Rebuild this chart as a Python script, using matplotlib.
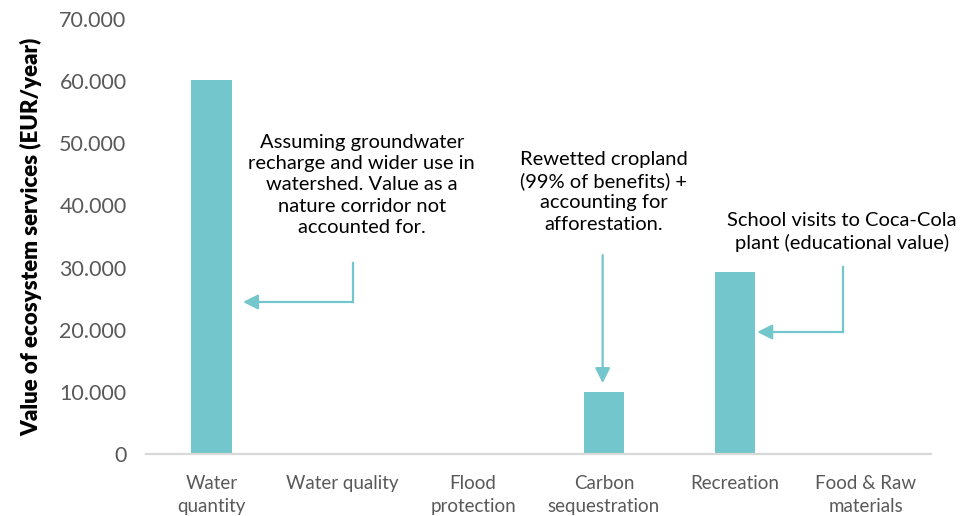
import matplotlib
matplotlib.use("Agg")
import matplotlib.pyplot as plt
from matplotlib.ticker import FuncFormatter, MultipleLocator

# Ecosystem service values (EUR/year)
categories = ["Water\nquantity", "Water quality", "Flood\nprotection",
              "Carbon\nsequestration", "Recreation", "Food & Raw\nmaterials"]
values = [60200, 0, 0, 10000, 29300, 0]

note_water = "Assuming groundwater\nrecharge and wider use in\nwatershed. Value as a\nnature corridor not\naccounted for."
note_carbon = "Rewetted cropland\n(99% of benefits) +\naccounting for\nafforestation."
note_recreation = "School visits to Coca-Cola\nplant (educational value)"

teal = "#73C6CB"
grey = "#595959"

plt.rcParams['font.family'] = ['Lato', 'DejaVu Sans']

fig = plt.figure(figsize=(9.77, 5.16), dpi=100)
ax = fig.add_axes([0.1494, 0.1202, 0.8036, 0.843])

x = range(len(categories))
ax.bar(x, values, width=0.31, color=teal, zorder=2)

ax.set_xlim(-0.5, len(categories) - 0.5)
ax.set_ylim(0, 70000)
ax.yaxis.set_major_locator(MultipleLocator(10000))
ax.yaxis.set_major_formatter(FuncFormatter(lambda v, p: f"{v:,.0f}".replace(",", ".")))
ax.set_xticks(list(x))
ax.set_xticklabels(categories, fontsize=13.5, color=grey, linespacing=1.45)
ax.tick_params(axis='y', length=0, pad=14, labelsize=15.5, labelcolor=grey)
ax.tick_params(axis='x', length=0, pad=15)

for s in ["top", "right", "left"]:
    ax.spines[s].set_visible(False)
ax.spines["bottom"].set_color("#D9D9D9")
ax.spines["bottom"].set_linewidth(1.6)

ax.set_ylabel("Value of ecosystem services (EUR/year)", fontsize=16,
              fontweight="heavy", labelpad=12)

arrow = dict(arrowstyle="-|>,head_length=0.9,head_width=0.45", color=teal,
             lw=1.6, shrinkA=0, shrinkB=0)

# Water quantity note
ax.text(1.15, 43300, note_water, ha="center", va="center", fontsize=14.5, linespacing=1.3)
ax.plot([1.082, 1.082], [30700, 24460], color=teal, lw=1.6)
ax.annotate("", xy=(0.2415, 24460), xytext=(1.082, 24460), arrowprops=arrow)

# Carbon sequestration note
ax.text(3.0, 42200, note_carbon, ha="center", va="center", fontsize=14.5, linespacing=1.3)
ax.annotate("", xy=(2.99, 11400), xytext=(2.99, 32000), arrowprops=arrow)

# Recreation note
ax.text(4.82, 35700, note_recreation, ha="center", va="center", fontsize=14.5, linespacing=1.3)
ax.plot([4.827, 4.827], [30100, 19630], color=teal, lw=1.6)
ax.annotate("", xy=(4.171, 19630), xytext=(4.827, 19630), arrowprops=arrow)

fig.savefig("out.png", dpi=100)
